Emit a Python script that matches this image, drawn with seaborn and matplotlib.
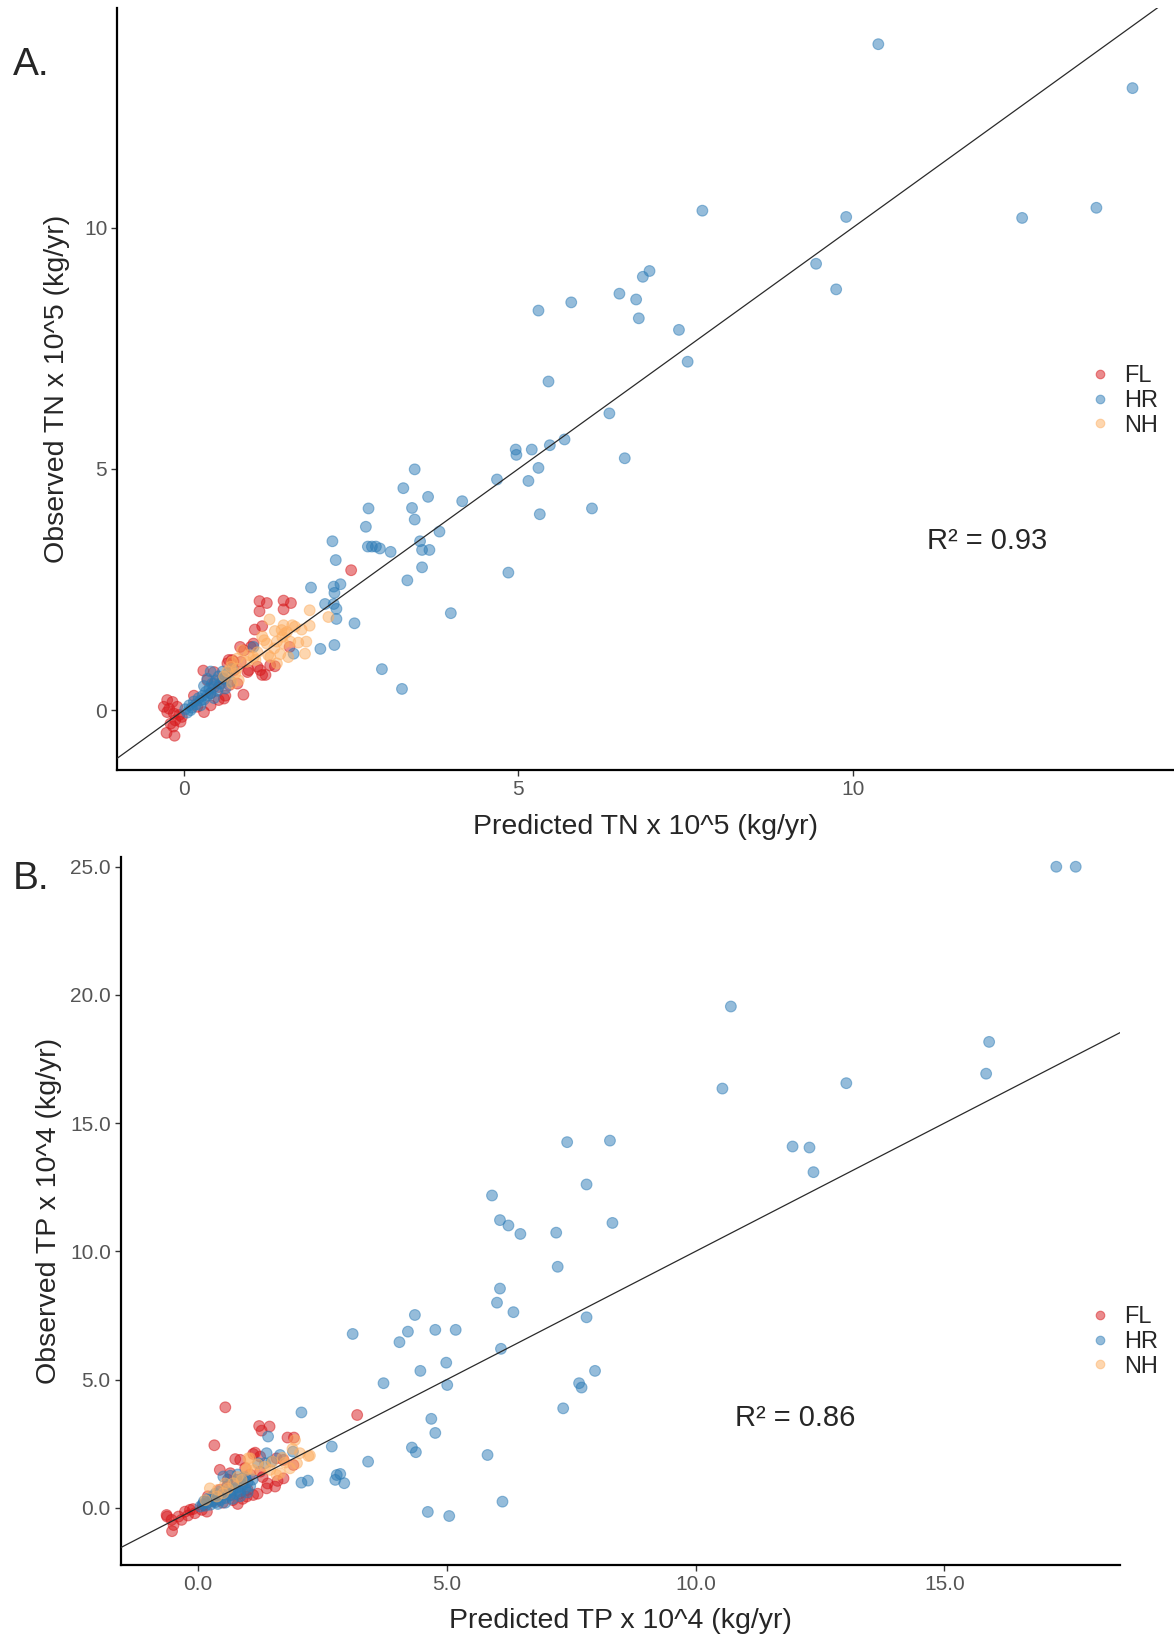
import numpy as np
import pandas as pd
import matplotlib
matplotlib.use("Agg")
import matplotlib.pyplot as plt
import seaborn as sns

# ---------------- Panel A: total nitrogen (x 10^5 kg/yr) ----------------
tn_fl_pred = [2.50, 1.13, 1.24, 1.49, 1.60, 1.13, 1.49, 1.17, 1.06, 1.58, 1.36, 1.22, 1.14,
              0.97, 0.89, 0.84, 0.67, 0.74, 1.04, 0.90, 1.00, 0.85, 0.72, 0.65, 0.75, 0.95,
              1.10, 1.17, 1.29, 0.29, 0.45, 0.35, 0.52, 0.60, 0.52, 0.40, 0.20, 0.30, 0.62,
              0.68, 0.80, -0.25, -0.17, -0.30, -0.22, -0.10, -0.25, -0.15, -0.07, -0.03,
              -0.13, -0.05, -0.20, -0.26, -0.14, -0.16, 0.45, 0.58, 0.40, 0.15]
tn_fl_obs = [2.90, 2.26, 2.22, 2.27, 2.22, 2.05, 2.09, 1.74, 1.67, 1.31, 0.91, 0.73, 0.83,
             0.83, 0.32, 1.31, 1.04, 1.01, 1.38, 1.24, 1.31, 1.00, 1.04, 0.97, 0.83, 0.79,
             0.90, 0.73, 0.93, 0.82, 0.79, 0.62, 0.48, 0.24, 0.21, 0.35, 0.07, -0.04, 0.30,
             0.52, 0.55, 0.21, 0.17, 0.07, 0.03, 0.07, -0.04, -0.07, -0.10, -0.14,
             -0.21, -0.24, -0.28, -0.47, -0.53, -0.34, 0.55, 0.65, 0.10, 0.30]

tn_hr_pred = [10.38, 14.18, 7.75, 9.90, 12.53, 13.64, 9.45, 9.75, 6.86, 6.96, 6.51, 6.76,
              6.80, 7.40, 7.53, 5.30, 5.79, 5.45, 6.36, 5.69, 5.47, 4.96, 4.97, 5.20, 5.30,
              4.68, 5.15, 6.59, 6.10, 5.32, 4.85, 4.16, 3.45, 3.28, 3.65, 3.41, 3.45, 2.76,
              2.72, 3.82, 3.53, 3.56, 3.67, 3.56, 3.34, 2.75, 2.81, 2.87, 2.93, 3.09, 2.22,
              2.27, 3.99, 2.96, 3.26, 1.90, 2.24, 2.34, 2.25, 2.11, 2.24, 2.28, 2.28, 2.55,
              2.04, 2.25, 1.64, 1.04,
              0.02, 0.08, 0.12, 0.15, 0.18, 0.22, 0.25, 0.28, 0.30, 0.33, 0.35, 0.38, 0.40,
              0.42, 0.45, 0.48, 0.50, 0.52, 0.55, 0.58, 0.60, 0.62, 0.65, 0.35, 0.40, 0.30,
              0.25, 0.45, 0.70, 0.72, 0.10, 0.05]
tn_hr_obs = [13.80, 12.89, 10.35, 10.22, 10.20, 10.41, 9.25, 8.72, 8.98, 9.10, 8.63, 8.51,
             8.12, 7.88, 7.22, 8.28, 8.45, 6.81, 6.15, 5.61, 5.49, 5.40, 5.29, 5.40, 5.02,
             4.78, 4.75, 5.22, 4.18, 4.06, 2.85, 4.33, 4.99, 4.60, 4.42, 4.19, 3.95, 4.18,
             3.80, 3.70, 3.50, 3.32, 3.32, 2.96, 2.69, 3.39, 3.39, 3.39, 3.35, 3.28, 3.50,
             3.11, 2.01, 0.85, 0.44, 2.54, 2.56, 2.61, 2.43, 2.20, 2.20, 2.10, 1.89, 1.80,
             1.27, 1.35, 1.17, 1.31,
             0.02, 0.10, 0.05, 0.18, 0.12, 0.25, 0.20, 0.30, 0.22, 0.38, 0.30, 0.45, 0.35,
             0.55, 0.48, 0.62, 0.40, 0.70, 0.55, 0.80, 0.65, 0.45, 0.75, 0.65, 0.80, 0.50,
             0.10, 0.25, 0.60, 0.85, 0.00, -0.05]

tn_nh_pred = [1.88, 2.16, 1.28, 1.36, 1.46, 1.54, 1.66, 1.76, 1.88, 1.24, 1.39, 1.49, 1.71,
              1.83, 1.26, 1.44, 1.56, 0.87, 1.04, 0.94, 0.79, 0.72, 1.17, 1.49, 1.62, 1.47,
              1.59, 1.35, 1.29, 0.97, 0.80, 0.70, 0.77, 0.82, 0.72, 1.39, 1.07, 1.51, 1.81,
              1.10, 1.20, 0.60, 0.65]
tn_nh_obs = [2.07, 1.93, 1.88, 1.64, 1.66, 1.62, 1.73, 1.67, 1.75, 1.38, 1.42, 1.38, 1.40,
             1.42, 1.14, 1.16, 1.10, 1.24, 1.10, 1.00, 0.86, 1.00, 1.53, 1.76, 1.76, 1.52,
             1.42, 1.28, 1.10, 1.14, 1.07, 0.90, 0.76, 0.62, 0.55, 0.97, 1.04, 1.59, 1.17,
             1.20, 1.45, 0.70, 0.80]

# ---------------- Panel B: total phosphorus (x 10^4 kg/yr) ----------------
tp_fl_pred = [3.20, 0.55, 0.33, 1.23, 1.44, 1.28, 1.80, 1.93, 0.75, 0.85, 1.11, 1.25, 1.58,
              1.72, 1.15, 1.92, 0.44, 0.65, 1.38, 1.55, 1.72, 0.44, 0.65, 0.85, 0.98, 1.11,
              0.78, 0.58, 1.25, -0.63, -0.53, -0.39, -0.26, -0.16, -0.06, -0.49, 0.08, -0.33,
              0.18, -0.62, -0.52,
              0.30, 0.50, 0.70, 0.90, 1.20, 1.40, 1.60, 1.00, 0.80, 1.30, 0.60, 1.05, 0.95,
              0.20, 0.10, -0.20, -0.10]
tp_fl_obs = [3.62, 3.92, 2.44, 3.19, 3.17, 3.01, 2.74, 2.74, 1.90, 1.87, 2.10, 2.00, 1.93,
             1.87, 2.15, 1.67, 1.48, 1.35, 0.76, 0.83, 1.15, 0.70, 0.50, 0.57, 0.44, 0.50,
             1.09, 0.83, 1.41, -0.28, -0.47, -0.34, -0.15, -0.08, -0.21, -0.67, -0.08, -0.47,
             -0.15, -0.34, -0.91,
             0.25, 0.20, 0.30, 0.35, 0.55, 0.95, 1.05, 0.70, 0.15, 1.20, 1.10, 1.30, 1.55,
             0.45, 0.10, -0.30, -0.05]

tp_hr_pred = [17.25, 17.64, 10.71, 15.90, 15.84, 13.03, 10.54, 7.42, 8.28, 11.95, 12.29,
              12.37, 7.81, 5.91, 6.07, 6.24, 6.48, 7.20, 8.33, 7.23, 6.07, 6.01, 6.34, 7.81,
              6.09, 4.36, 3.11, 4.22, 4.77, 5.18, 4.05, 4.99, 4.47, 3.73, 5.01, 7.98, 7.66,
              7.71, 7.34, 4.69, 4.77, 4.30, 4.38, 5.82, 3.42, 2.69, 2.79, 2.86, 2.76, 2.94,
              6.12, 4.62, 5.05, 2.08, 2.21, 2.08, 1.41, 1.38, 1.65, 1.91, 1.21, 1.35, 1.48,
              0.51,
              0.05, 0.10, 0.15, 0.20, 0.25, 0.30, 0.35, 0.40, 0.45, 0.50, 0.55, 0.60, 0.65,
              0.70, 0.75, 0.80, 0.85, 0.90, 0.95, 1.00, 1.05, 1.10, 0.30, 0.45, 0.60, 0.75,
              0.90, 0.20, 0.12, 0.40, 0.55, 0.70, 0.85, 1.00, 0.35, 0.65, 0.80, 0.95]
tp_hr_obs = [25.0, 25.0, 19.55, 18.17, 16.93, 16.56, 16.35, 14.26, 14.32, 14.09, 14.05,
             13.09, 12.61, 12.18, 11.22, 11.01, 10.68, 10.73, 11.11, 9.40, 8.55, 8.00, 7.63,
             7.43, 6.20, 7.52, 6.78, 6.87, 6.94, 6.94, 6.46, 5.66, 5.34, 4.86, 4.79, 5.34,
             4.86, 4.69, 3.88, 3.47, 2.92, 2.35, 2.17, 2.06, 1.80, 2.39, 1.28, 1.32, 1.09,
             0.96, 0.24, -0.16, -0.32, 0.98, 1.06, 3.72, 2.78, 2.13, 2.06, 2.19, 1.74, 1.74,
             1.80, 1.22,
             0.05, 0.15, 0.08, 0.20, 0.12, 0.30, 0.22, 0.40, 0.30, 0.50, 0.38, 0.60, 0.48,
             0.70, 0.55, 0.80, 0.65, 0.90, 0.75, 1.00, 0.85, 1.10, 0.45, 0.65, 0.85, 1.00,
             1.15, 0.35, 0.25, 0.15, 0.20, 0.35, 0.45, 0.60, 0.55, 1.25, 1.30, 1.20]

tp_nh_pred = [1.95, 2.25, 2.22, 1.99, 1.05, 0.98, 1.85, 1.65, 2.05, 1.01, 1.75, 0.98, 1.45,
              0.24, 0.38, 0.51, 0.71, 0.88, 1.11, 1.58,
              0.40, 0.60, 0.80, 1.20, 1.35, 1.50, 1.70, 0.15, 0.55, 1.90]
tp_nh_obs = [2.64, 2.04, 2.02, 1.74, 1.93, 1.54, 1.54, 1.35, 2.13, 1.93, 1.76, 1.48, 1.48,
             0.76, 0.44, 0.57, 0.96, 1.09, 1.48, 1.28,
             0.70, 0.75, 1.20, 1.70, 1.60, 1.80, 1.95, 0.30, 0.95, 2.30]

groups = ["FL", "HR", "NH"]
group_colors = {"FL": "#D7191C", "HR": "#2C7BB6", "NH": "#FDAE61"}
r2_labels = ["R\u00b2 = 0.93", "R\u00b2 = 0.86"]


def frame(fl_p, fl_o, hr_p, hr_o, nh_p, nh_o):
    parts = []
    for g, p, o in zip(groups, (fl_p, hr_p, nh_p), (fl_o, hr_o, nh_o)):
        parts.append(pd.DataFrame({"pred": p, "obs": o, "region": g}))
    return pd.concat(parts, ignore_index=True)


df_tn = frame(tn_fl_pred, tn_fl_obs, tn_hr_pred, tn_hr_obs, tn_nh_pred, tn_nh_obs)
df_tp = frame(tp_fl_pred, tp_fl_obs, tp_hr_pred, tp_hr_obs, tp_nh_pred, tp_nh_obs)

sns.set_style("ticks")
plt.rcParams["font.family"] = ["Liberation Sans", "DejaVu Sans"]

W, H = 1174, 1637
fig = plt.figure(figsize=(W / 100, H / 100), dpi=100)


def box(l, t, r, b):
    return [l / W, 1 - b / H, (r - l) / W, (b - t) / H]


axA = fig.add_axes(box(117, 8, 1174, 770))
axB = fig.add_axes(box(120.5, 856.5, 1120, 1565))

panels = [
    (axA, df_tn, (-1.0, 14.8), (-1.24, 14.55), [0, 5, 10], [0, 5, 10], "{:.0f}",
     "Predicted TN x 10^5 (kg/yr)", "Observed TN x 10^5 (kg/yr)", 11, 10, 365),
    (axB, df_tp, (-1.556, 18.53), (-2.23, 25.4), [0, 5, 10, 15], [0, 5, 10, 15, 20, 25],
     "{:.1f}", "Predicted TP x 10^4 (kg/yr)", "Observed TP x 10^4 (kg/yr)", 10, 6, 1306),
]

for i, (ax, df, xl, yl, xt, yt, fmt, xlab, ylab, xpad, ypad, top) in enumerate(panels):
    sns.scatterplot(data=df, x="pred", y="obs", hue="region", hue_order=groups,
                    palette=group_colors, alpha=0.5, s=60, edgecolor="face",
                    linewidth=0.8, ax=ax, legend=True, zorder=3)
    # 1:1 reference line
    lo = min(xl[0], yl[0])
    hi = max(xl[1], yl[1])
    ax.plot([lo, hi], [lo, hi], color="#2a2a2a", lw=0.9, zorder=4)
    ax.set_xlim(*xl)
    ax.set_ylim(*yl)
    ax.set_xticks(xt)
    ax.set_xticklabels([fmt.format(v) for v in xt])
    ax.set_yticks(yt)
    ax.set_yticklabels([fmt.format(v) for v in yt])
    ax.tick_params(axis="both", labelsize=15, labelcolor="#555555", color="#333333",
                   length=4, width=1.0, pad=3)
    for side in ("top", "right"):
        ax.spines[side].set_visible(False)
    for side in ("left", "bottom"):
        ax.spines[side].set_linewidth(1.6)
        ax.spines[side].set_color("black")
    ax.set_xlabel(xlab, fontsize=20.5, labelpad=xpad)
    ax.set_ylabel(ylab, fontsize=20.5, labelpad=ypad)
    ax.text(12.0, 3.5, r2_labels[i], fontsize=21, ha="center", va="center", zorder=5)

    handles, labels = ax.get_legend_handles_labels()
    ax.get_legend().remove()
    ax.legend(handles, labels, loc="upper left",
              bbox_to_anchor=(1088 / W, 1 - top / H), bbox_transform=fig.transFigure,
              frameon=False, fontsize=17, handletextpad=0.55, labelspacing=0.12,
              borderpad=0, borderaxespad=0, handlelength=1.0, markerscale=0.8)

fig.text(12.5 / W, 1 - 75 / H, "A.", fontsize=28, va="baseline", ha="left")
fig.text(12.5 / W, 1 - 889 / H, "B.", fontsize=28, va="baseline", ha="left")

fig.savefig("out.png", dpi=100)
